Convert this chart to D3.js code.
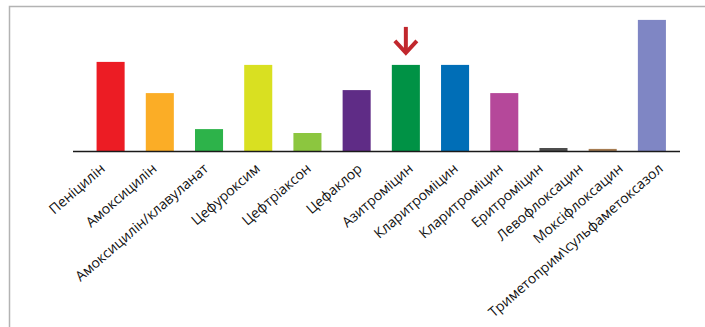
<!DOCTYPE html>
<html>
<head>
<meta charset="utf-8">
<script src="https://cdn.jsdelivr.net/npm/d3@7"></script>
<style>
  html, body { margin: 0; padding: 0; background: #fff; }
  svg { display: block; }
</style>
</head>
<body>
<svg id="chart" width="705" height="327"></svg>
<script>
// Resistance values, one bar per antibiotic
const values = [29.7, 19.3, 7.3, 28.7, 6.0, 20.3, 28.7, 28.7, 19.3, 1.0, 0.7, 43.7];
const colors = ["#ec1c24", "#fbad26", "#2db34a", "#d9e021", "#8cc63f", "#5f2c86",
                "#009245", "#006eb7", "#b5489a", "#4d4d4d", "#a67c52", "#7f86c4"];
// Axis labels (the axis carries one more label than there are bars)
const labels = [
  "Пеніцилін", "Амоксицилін", "Амоксицилін/клавуланат", "Цефуроксим",
  "Цефтріаксон", "Цефаклор", "Азитроміцин", "Кларитроміцин",
  "Кларитроміцин", "Еритроміцин", "Левофлоксацин", "Моксіфлоксацин",
  "Триметоприм\\сульфаметоксазол"
];
// Bar marked with an arrow
const highlightIndex = 6;

const svg = d3.select("#chart");

// Frame around the chart area
svg.append("rect")
  .attr("x", 9.5).attr("y", 6.5)
  .attr("width", 720).attr("height", 340)
  .attr("fill", "none")
  .attr("stroke", "#b3b3b3")
  .attr("stroke-width", 1.5);

const idx = d3.range(values.length);
const x = d3.scaleBand()
  .domain(idx)
  .range([86, 676.5])
  .paddingInner(0.43)
  .paddingOuter(0.215);

const baseY = 151;
const y = d3.scaleLinear().domain([0, 50]).range([baseY, 1]);

// Bars
svg.append("g").selectAll("rect")
  .data(idx)
  .join("rect")
  .attr("x", i => x(i))
  .attr("width", x.bandwidth())
  .attr("y", i => y(values[i]))
  .attr("height", i => y(0) - y(values[i]))
  .attr("fill", i => colors[i]);

// Baseline
svg.append("line")
  .attr("x1", 73).attr("x2", 680)
  .attr("y1", baseY + 0.5).attr("y2", baseY + 0.5)
  .attr("stroke", "#1a1a1a").attr("stroke-width", 1.3);

// Label positions along the axis
const lx = d3.scaleLinear()
  .domain([0, 3, 6, 8, 12])
  .range([106, 261, 414, 504, 664]);

// Rotated category labels
svg.append("g").selectAll("text")
  .data(labels)
  .join("text")
  .attr("transform", (d, i) => `translate(${lx(i)},${baseY + 19}) rotate(-41)`)
  .attr("text-anchor", "end")
  .attr("font-family", "'Open Sans', sans-serif")
  .attr("font-size", 14)
  .attr("fill", "#111")
  .text(d => d);

// Arrow above the highlighted bar
const cx = x(highlightIndex) + x.bandwidth() / 2;
const barTop = y(values[highlightIndex]);
const arrow = svg.append("g").attr("fill", "none").attr("stroke", "#c1272d")
  .attr("stroke-width", 4).attr("stroke-linecap", "butt").attr("stroke-linejoin", "miter");
arrow.append("line")
  .attr("x1", cx).attr("x2", cx)
  .attr("y1", barTop - 38).attr("y2", barTop - 12);
arrow.append("path")
  .attr("d", `M${cx - 11},${barTop - 24} L${cx},${barTop - 12} L${cx + 11},${barTop - 24}`);
</script>
</body>
</html>
